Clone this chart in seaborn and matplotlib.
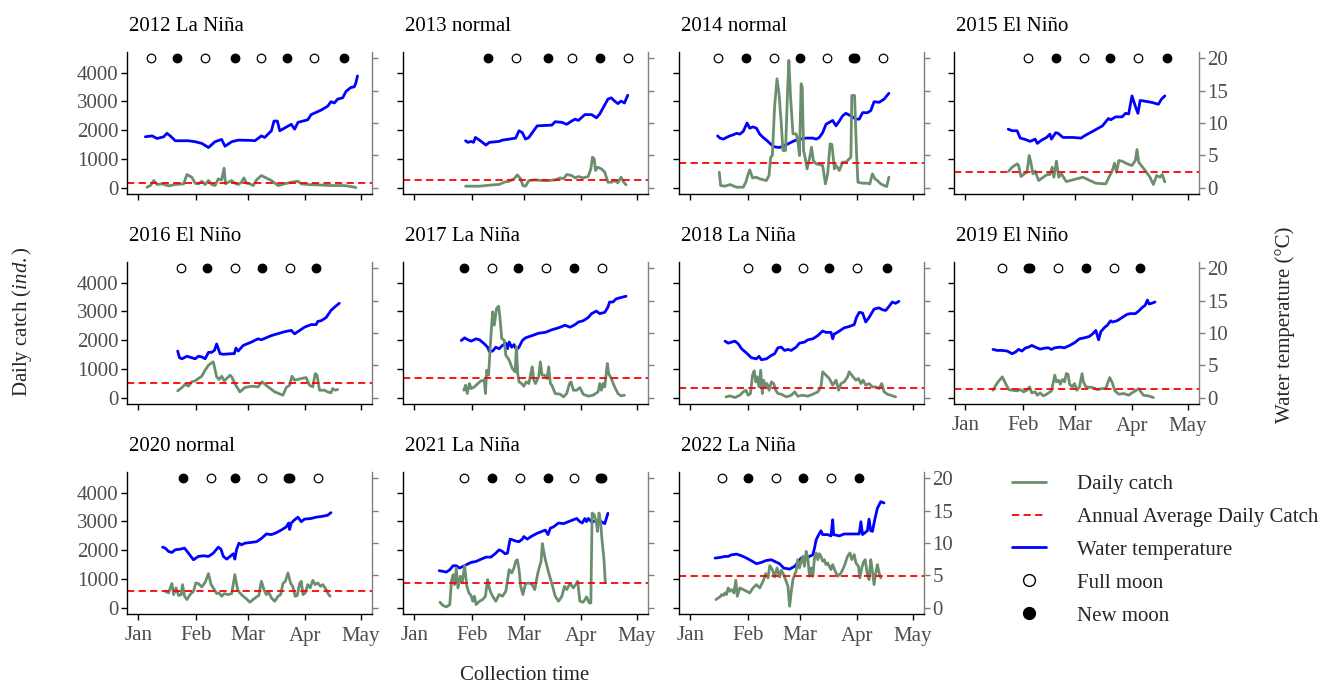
import numpy as np
import pandas as pd
import matplotlib
matplotlib.use("Agg")
import matplotlib.pyplot as plt
import seaborn as sns
from matplotlib.lines import Line2D

sns.set_style("ticks")
plt.rcParams['font.family'] = ['Liberation Serif', 'DejaVu Serif']
plt.rcParams['mathtext.fontset'] = 'custom'
plt.rcParams['mathtext.rm'] = 'Liberation Serif'
plt.rcParams['mathtext.it'] = 'Liberation Serif:italic'

# ---------------- data ----------------
years = [2012, 2013, 2014, 2015, 2016, 2017, 2018, 2019, 2020, 2021, 2022]
enso = ['La Niña', 'normal', 'normal', 'El Niño', 'El Niño', 'La Niña',
        'La Niña', 'El Niño', 'normal', 'La Niña', 'La Niña']
avg_catch = [163, 267, 872, 558, 512, 686, 326, 291, 592, 847, 1114]
month_ticks = [0, 31, 59, 90, 120]          # day offset from Jan 1
month_labels = ['Jan', 'Feb', 'Mar', 'Apr', 'May']

full_2012 = [7, 36, 66, 95];        new_2012 = [21, 52, 80, 111]
full_2013 = [55, 85, 115];          new_2013 = [40, 72, 100]
full_2014 = [15, 45, 74, 104];      new_2014 = [30, 59, 88, 89]
full_2015 = [34, 64, 93];           new_2015 = [49, 78, 109]
full_2016 = [23, 52, 82];           new_2016 = [37, 67, 96]
full_2017 = [42, 71, 101];          new_2017 = [27, 56, 86]
full_2018 = [31, 61, 90];           new_2018 = [46, 75, 106]
full_2019 = [20, 50, 80];           new_2019 = [34, 35, 65, 94]
full_2020 = [39, 67, 97];           new_2020 = [24, 52, 81, 82]
full_2021 = [27, 57, 86];           new_2021 = [42, 72, 100, 101]
full_2022 = [17, 46, 76];           new_2022 = [31, 61, 91]

cday_2012 = [4.8,6.6,8.4,10.2,12.9,16.4,20,24.5,26.3,28.9,30.7,32.5,34.3,36.1,37.9,39.6,41.4,43.2,45,46.3,47.1,48.6,50.4,52.1,53.9,55.7,57,58.4,60.2,62,63.8,66.4,68.2,71.8,75.4,78.9,82.5,86.1,87.9,91.4,96.8,103.9,111.1,114.6,117.3]
catch_2012 = [12,70,244,105,128,58,105,128,454,360,151,128,221,105,244,105,70,302,267,675,128,186,244,151,105,186,337,151,128,70,267,419,360,244,70,128,186,221,128,105,93,70,70,35,0]
tday_2012 = [3.9,7.5,10.2,13.8,15.5,17.3,20,27.1,30.7,34.3,37.9,41.4,45,46.8,50.4,53.9,61,62.9,66.4,68.2,71.8,73.2,75,76.3,82.5,84.3,86.1,91.4,93.2,98.6,102.1,103.9,105.7,107.5,110.2,112,114.6,116.4,117.3,118.2]
temp_2012 = [7.87,8.0,7.6,7.87,8.4,8.0,7.25,7.25,7.1,6.84,6.2,7.1,7.45,6.4,7.1,7.35,7.3,7.25,8.0,7.76,8.8,10.3,10.3,8.8,9.8,9.05,10.1,10.5,11.3,12.0,12.6,13.3,13.1,13.7,13.9,14.9,15.5,15.6,16.2,17.3]

cday_2013 = [27.7,35.2,42.3,45.8,48.5,51.2,53.8,55.6,57.4,58.6,60,61.8,65.4,68.9,72.5,76,78.7,80.5,82.2,84.9,86.7,88.5,91.1,93.8,95.2,96.1,97,97.7,98.8,100.9,102.7,104.4,106.2,108,109.8,111.5,112.9,114.2]
catch_2013 = [47,47,93,105,186,221,302,442,302,70,47,244,267,244,244,267,337,302,454,419,337,384,337,384,651,1058,1000,593,709,651,535,186,186,244,163,360,186,93]
tday_2013 = [27.7,29,30.7,32,33,35.2,38.7,40.5,45.8,47.6,51.2,54.7,56.5,58.3,60,61.8,66.3,74.2,76,79.6,82.2,84.9,86.7,88.5,92,95.6,98.2,100,104.4,106.2,108,109.8,111.5,113.3,115.1]
temp_2013 = [7.25,7.0,7.15,7.0,7.76,7.35,6.58,7.0,7.15,7.35,7.5,7.66,8.8,8.5,7.5,7.76,9.56,9.67,10.2,10.1,9.8,10.3,10.6,10.4,11.3,11.3,10.8,11.4,13.7,13.9,13.4,13.0,13.4,13.1,14.3]

cday_2014 = [15.7,16.4,18.8,21.4,25,28.6,30,31.3,32.1,33.6,35.7,37.5,41.1,42.5,43.4,44.3,45.5,46.8,47.9,49.1,50,51.4,52.5,53.2,54.1,55.4,57.1,58,58.9,59.8,60.4,61.1,62.1,63,64.3,65.4,66.4,67.9,69.6,71.4,72.9,74.1,75.4,76.4,77.7,78.6,80.4,82.1,83.9,85.7,86.6,87.1,88.6,89.6,90.4,92.9,95.5,96.8,98.2,99.6,100.9,102.7,104.5,105.9,107.1]
catch_2014 = [535,70,47,105,12,12,186,477,616,337,360,302,244,419,1058,1116,2803,3791,3268,2221,1291,1291,3384,4431,3152,1872,1872,1640,1116,3617,3500,1291,1000,651,1000,1407,942,826,802,768,128,477,1524,1500,651,768,593,884,884,1000,1058,3210,3210,1291,186,151,151,128,477,302,244,128,70,35,360]
tday_2014 = [14.8,16.1,17.9,19.6,21.4,23.2,25,26.8,28.6,30.7,32.1,33.9,35.7,37.5,39.3,41.1,43.8,45.5,48.2,51.8,55.4,57.1,58.9,62.5,66.1,67.9,69.6,71.4,73.2,75,76.8,78.6,80.4,82.1,83.9,86.6,89.3,91.1,92.9,95.5,97.3,99.1,101.8,104.5,107.1]
temp_2014 = [8.0,7.66,7.5,7.76,8.0,8.17,8.4,8.28,8.7,10.0,9.2,9.4,9.2,8.28,7.76,7.35,6.63,6.3,6.2,6.63,7.15,7.35,7.5,7.66,7.66,7.5,7.76,8.5,9.8,10.1,10.4,9.56,10.3,11.1,11.5,11.1,10.6,10.6,11.6,11.6,11.9,13.3,13.2,13.7,14.6]

cday_2015 = [23.5,25.3,28,28.8,30.1,31.9,33.3,34.5,35.4,36.5,37.7,39.6,42.1,44.2,45.7,46.9,47.8,49.2,50.4,51.9,54.5,63.4,70.4,75.8,77.5,79.3,80.5,81.6,82.8,84.6,87.3,89.9,91.7,92.6,93.5,97,99.6,101.4,103.2,105,106.2,107.6]
catch_2015 = [570,709,826,768,384,477,535,1116,884,477,570,244,360,454,454,709,360,919,360,477,209,360,151,128,360,593,849,535,942,919,826,768,942,1326,884,593,360,105,419,360,454,198]
tday_2015 = [23.2,25.3,28,29.7,32.4,35,37.7,38.9,41.2,43.9,45.7,46.5,48.8,50.1,52.7,58,62.5,64.2,68.7,74,77.2,78.4,81.1,84.6,86.4,88.1,89.9,91.7,93.1,94.3,100.5,104.1,105.8,107.6]
temp_2015 = [9.05,8.8,8.8,7.66,7.45,7.15,7.5,6.84,7.35,7.76,8.28,7.5,8.5,8.4,7.76,7.76,7.66,8.0,8.7,9.56,10.7,10.5,10.95,10.95,11.5,11.4,14.2,12.6,11.5,13.5,13.2,12.9,13.7,14.2]

cday_2016 = [21.3,23.6,25.4,27.1,28.9,30.7,32.5,34.3,36.1,37.9,39.6,40.5,42.3,43.6,45,46.4,47.7,49.5,50.4,52.1,54.8,57.5,61.1,64.6,66.8,70,73.6,78,79.8,81.6,82.9,84.3,87.9,90.5,92.3,94.1,95.4,96.4,97.7,100.4,102.1,103.9,104.8,106.1,107.5]
catch_2016 = [233,349,465,395,547,582,663,744,954,1128,1210,1244,721,628,744,582,663,779,721,488,198,349,395,372,547,372,198,81,349,430,744,605,663,698,430,372,837,779,256,256,198,163,314,256,279]
tday_2016 = [21.3,22.3,23.6,26.3,28.9,30.7,32.5,34.3,36.1,37.9,39.6,41.1,42.3,43.2,44.1,45.9,50.4,51.8,52.7,53.9,56.6,61.1,64.6,66.4,71.8,78.9,82.5,84.3,89.6,93.2,95.9,96.8,98.6,101.3,103.9,106.6,108.4]
temp_2016 = [7.2,6.17,6.0,6.4,6.17,6.0,6.4,6.3,6.0,7.0,7.0,7.3,8.3,7.56,6.8,6.7,6.8,6.8,7.66,7.2,8.07,8.6,9.1,8.95,9.6,10.2,10.4,9.87,10.9,11.3,11.3,11.8,11.9,12.4,13.5,14.2,14.6]

cday_2017 = [26.8,27.7,28.6,29.8,30.7,32.5,34.3,36.1,37.8,38.4,39.1,40.1,41.4,42.3,43.2,44.4,45.5,46.2,47.2,48.5,49.4,51.2,52.9,54.4,55.1,55.8,56.5,57.9,59.1,60.4,61.8,62.7,63.6,64.5,65.4,67.1,68,68.9,70.3,71.6,72.5,73.4,74.2,76,78.7,80.5,82.2,83.7,84.5,85.8,87.6,89.3,91.1,93.8,96.4,99.1,100,100.9,101.8,102.7,104.1,104.8,106.2,108,109.8,111.5,113.3]
catch_2017 = [256,430,140,488,314,372,488,582,605,140,954,779,2175,2989,2524,3105,3187,2814,2059,2000,1477,1303,1012,895,1768,837,547,488,395,547,488,779,1070,605,488,721,1244,779,779,663,1070,488,430,140,116,23,140,488,547,256,256,349,116,47,81,198,488,256,488,372,1186,837,663,372,140,58,81]
tday_2017 = [25.4,27.2,29,30.7,33.4,35.2,37.8,39.6,40.5,42.3,44,45.8,47.6,49.4,50.3,51.2,52.6,53.8,55.1,56.5,57.4,58.3,60,63.6,67.1,70.7,74.2,77.8,81.3,84,86.7,88.5,91.1,93.8,95.6,98.2,100,102.7,104.4,105.3,107.1,108.9,111.5,114.2]
temp_2017 = [8.84,9.25,8.95,8.74,9.1,8.95,8.33,7.8,7.15,7.2,7.8,7.56,8.07,8.43,7.56,8.6,7.8,8.2,7.4,7.8,8.33,8.84,9.25,9.6,9.97,10.1,10.5,10.8,11.2,10.9,11.3,11.7,11.9,12.4,13.0,13.4,13.0,13.2,14.0,14.8,14.8,15.3,15.5,15.7]

cday_2018 = [19.3,21.4,24.1,26.8,28.6,30,31.3,32.5,33.6,34.5,35.4,36.1,37.1,38,38.9,39.6,40.7,41.4,42.5,43.8,45,46.1,47.3,49.1,51.8,54.5,56.3,58,60.7,63.4,66.1,68.8,70.5,71.4,72.3,73.2,75,75.9,76.8,78.6,80,81.3,83,84.8,85.7,87.5,89.3,90.7,92,93.2,94.6,96.4,98.2,100,101.8,103.2,104.5,106.3,108,110.7]
catch_2018 = [23,58,0,81,198,256,81,140,779,930,547,721,372,954,140,605,372,488,256,547,488,256,140,116,23,81,198,47,81,47,116,198,372,895,837,779,663,547,430,605,256,488,547,721,895,744,605,663,488,605,430,488,372,372,314,488,198,116,81,23]
tday_2018 = [18.8,20.5,24.1,25.9,27.7,30.4,33,35.7,37.1,38.4,41.1,43.8,45.5,47.3,49.1,50.9,52.7,54.5,57.1,58.9,61.6,63.4,66.1,68.8,71.4,73.2,75.9,76.8,77.7,78.6,80.4,83,85.7,88.4,89.6,91.1,92.9,94.6,96.4,99.1,101.8,103.6,105.4,107.1,108.9,110.7,112.5]
temp_2018 = [8.74,8.43,8.74,8.33,7.56,6.89,6.17,6.0,6.38,5.86,6.0,6.53,6.79,7.71,7.81,7.3,7.45,7.3,7.81,8.43,8.59,8.95,9.1,9.6,10.3,10.1,10.1,9.1,9.87,9.97,10.3,10.8,11.0,11.3,12.4,13.2,13.1,11.7,12.4,13.7,13.9,13.6,13.5,14.1,14.8,14.6,14.9]

cday_2019 = [15,16.5,18.2,20,21.8,23.5,25.3,28,29.7,31.5,33.3,34.7,35.9,37.7,38.9,40.4,42.1,43.9,46.5,48.3,49.2,50.4,51.3,52.4,53.6,54.5,55.4,56.3,57.7,58.9,60.2,61.6,63,63.7,65.1,68.7,71.3,74,75.8,77,77.9,79.3,80.7,82.8,85.5,88.1,89.9,91.7,93.5,94.7,96.1,98.8,101.4]
catch_2019 = [256,430,582,721,488,279,256,233,279,198,256,372,163,198,81,163,58,116,233,779,547,605,465,628,547,837,814,465,372,488,256,372,837,547,372,349,279,314,314,547,698,512,233,116,140,81,163,233,314,198,81,58,0]
tday_2019 = [15,17.3,20,22.7,25.3,27.1,28.8,30.6,32.4,34.2,35.9,38.6,40.4,43,44.8,46.5,48.3,51,53.6,56.3,58.9,61.6,64.2,66.9,68.7,70.4,71.9,73.1,74.9,76.6,78.4,79.3,81.9,84.6,87.3,89,91.7,93.5,95.2,97,98.2,99.1,100.5,102.3]
temp_2019 = [7.46,7.3,7.3,7.2,6.79,7.04,7.46,7.2,7.66,7.81,8.07,7.71,7.5,7.66,7.71,7.46,7.71,7.81,7.71,8.07,8.48,9.1,9.25,9.46,9.87,10.4,8.95,10.2,10.8,11.2,11.9,11.7,11.9,12.4,12.9,13.0,13.0,13.4,13.9,14.3,15.1,14.5,14.6,14.8]

cday_2020 = [14.6,16.4,17.3,18.2,19.1,20.4,21.8,23.2,23.9,25,26.3,28,29.8,31.1,32.5,34.3,36.1,37.9,39.3,40.5,42.3,43.6,45,46.4,48.6,50.4,52.1,53.6,54.8,56.6,58.4,60.2,61.9,63.8,65,66.4,67.9,69.1,70.4,71.8,73.6,75.4,76.8,78,79.3,80.7,82.1,83.4,84.6,85.7,87,87.9,88.8,90,91.4,92.7,94.1,95.4,96.8,98.2,99.5,101.3,102.1,103.4]
catch_2020 = [568,510,684,835,452,684,418,452,800,394,278,452,568,858,835,719,882,1183,800,684,487,510,394,487,452,487,1148,626,510,394,302,186,278,371,418,916,603,452,534,336,220,394,452,835,916,1206,858,719,394,418,835,916,452,510,800,684,951,800,858,742,800,626,510,394]
tday_2020 = [13.2,14.6,16.4,18.2,20,22.7,25,27.1,29.8,32.5,35.2,37.9,40.5,43.2,44.6,45.9,47.7,49.5,51.3,52.1,53,54.3,55.7,57.5,61.1,63.8,66.4,69.1,71.8,74.5,77.1,79.8,81.1,81.6,82.5,84.3,86.1,87.9,89.6,93.2,95.9,98.6,102.1,103.9]
temp_2020 = [9.36,9.2,8.69,8.53,8.95,9.05,9.2,8.43,7.4,7.92,8.02,7.92,8.43,9.36,9.05,7.92,7.5,7.92,8.33,7.5,8.95,9.97,9.72,9.97,10.1,10.2,10.7,11.4,11.3,11.6,12.0,12.5,13.1,12.1,13.1,13.6,14.0,13.3,13.7,13.8,14.0,14.1,14.3,14.7]

cday_2021 = [13.9,15.6,17.4,19.2,20.1,21,21.8,22.7,23.6,24.9,25.9,27.2,28.4,29.5,30.7,31.6,32.5,33.4,35.2,36.9,38.4,39.6,40.5,41.4,42.3,44,45.8,47.6,49.4,51.2,52.6,53.8,54.7,55.6,56.5,57.4,58.6,60,61.8,63.6,65,66.3,67.1,68.4,69.1,69.8,70.7,72.5,74.2,76,77.8,79.6,81,82.2,84,85.8,88.1,89.3,91.1,92.9,94.3,95.2,95.9,97,98.2,98.8,99.6,100.5,101.2,102.3,103]
catch_2021 = [186,70,23,104,916,1148,800,1380,684,1090,858,1462,742,510,418,220,394,104,220,278,394,974,684,510,394,220,452,394,568,1322,1206,1380,1612,1670,1322,742,452,835,858,800,626,1090,1322,1612,2227,1960,1670,1206,835,394,220,394,742,626,835,684,916,220,186,371,162,162,3294,3236,2946,2656,3294,2946,2366,1670,858]
tday_2021 = [13.5,15.6,17.4,19.2,21,22.7,24.5,26.3,28.1,30.7,33.4,36.1,38.7,41.4,44,45.8,47.6,49,50.3,51.7,52.9,54.7,56.5,58.3,59.1,60.9,63.6,66.3,68.9,70.7,72.1,73.4,75.1,77.8,80.5,83.1,85.8,87.6,89.3,90.6,92,92.9,93.8,95.6,98.2,100.9,102.7,104.4]
temp_2021 = [5.71,5.6,5.5,5.86,6.48,6.48,6.12,6.38,6.63,6.99,7.15,7.5,7.81,7.81,8.43,8.95,8.69,8.33,8.43,10.6,10.5,10.3,10.2,10.6,11.0,10.6,11.1,11.5,11.8,12.0,11.3,12.3,12.5,13.1,13.0,13.3,13.6,13.8,13.3,13.1,13.8,13.3,13.8,13.3,13.4,13.3,13.0,14.6]

cday_2022 = [13.9,15.2,16.1,17,17.9,18.8,19.6,20.5,21.4,22.3,23.6,24.6,25.4,26.8,28.6,30.4,32.1,33.9,35.7,37.5,39.3,40.7,42,42.9,44.3,45.5,46.8,48.2,49.1,50.4,51.4,52.7,53.6,54.5,55.4,56.3,57.1,58,58.9,59.8,60.7,61.6,62.5,63.4,64.3,65.2,66.1,67,67.9,68.8,69.6,70.5,71.4,72.3,73.2,74.1,75,75.9,76.8,78.2,79.5,81.3,83,84.8,86.1,87.1,88.4,89.3,90.7,91.4,92.5,93.2,94.3,95.5,96.4,97.3,98.2,99.1,100,100.9,101.8,102.7]
catch_2022 = [278,336,371,452,418,510,452,684,568,626,510,951,394,684,626,568,510,684,800,684,916,1183,1032,1462,1322,1067,1380,1067,1299,1148,974,742,46,568,974,1148,1264,1670,1380,1612,1786,1438,1960,1728,1090,1380,1090,1728,1902,1670,1879,1786,1612,1670,1496,1554,1438,1322,1496,1264,1090,1206,1438,1786,1902,1670,1844,1554,1438,1032,1380,1554,1670,1148,974,1670,1264,800,1206,1496,1206,1032]
tday_2022 = [13.4,16.1,18.8,20.5,22.3,25,27.7,30.4,33,35.7,38.4,41.1,43.8,45.5,48.2,50.4,53.6,56.3,58,59.8,62.5,64.3,66.1,67,67.9,69.3,70.5,71.4,74.1,75.9,76.8,77.3,80.4,83,87.5,91.1,92,92.9,95.5,96.4,97.3,98.2,99.6,100.9,102.7,104.5]
temp_2022 = [7.66,7.76,7.92,7.92,8.17,8.28,8.02,7.66,7.25,6.79,6.99,7.3,7.4,7.15,6.79,6.12,5.96,6.38,6.99,7.66,7.66,7.92,8.17,9.2,10.5,11.3,11.9,11.3,11.3,11.1,13.6,11.3,11.1,11.4,11.4,11.4,13.3,11.3,11.9,13.7,11.9,11.8,13.8,15.4,16.4,16.2]

# ---------------- assemble ----------------
catch_days = [cday_2012, cday_2013, cday_2014, cday_2015, cday_2016, cday_2017,
              cday_2018, cday_2019, cday_2020, cday_2021, cday_2022]
catches = [catch_2012, catch_2013, catch_2014, catch_2015, catch_2016, catch_2017,
           catch_2018, catch_2019, catch_2020, catch_2021, catch_2022]
temp_days = [tday_2012, tday_2013, tday_2014, tday_2015, tday_2016, tday_2017,
             tday_2018, tday_2019, tday_2020, tday_2021, tday_2022]
temps = [temp_2012, temp_2013, temp_2014, temp_2015, temp_2016, temp_2017,
         temp_2018, temp_2019, temp_2020, temp_2021, temp_2022]
fulls = [full_2012, full_2013, full_2014, full_2015, full_2016, full_2017,
         full_2018, full_2019, full_2020, full_2021, full_2022]
news = [new_2012, new_2013, new_2014, new_2015, new_2016, new_2017,
        new_2018, new_2019, new_2020, new_2021, new_2022]

SCALE = 4500 / 20.0       # secondary axis: temperature * SCALE = catch units
MOON_Y = 4500

GREEN = '#6b8e6e'
BLUE = '#0000ff'
RED = '#ff0000'
TICKC = '#4d4d4d'
FS = 15

W, H = 1326, 686
fig = plt.figure(figsize=(W / 100, H / 100), dpi=100)
col_left = [127, 403, 679, 954]
row_top = [52, 262, 472]
PW, PH = 245, 142

for i, yr in enumerate(years):
    r, c = divmod(i, 4)
    ax = fig.add_axes([col_left[c] / W, 1 - (row_top[r] + PH) / H, PW / W, PH / H])
    ax.set_facecolor('white')

    tdf = pd.DataFrame({'day': temp_days[i], 'temp': np.array(temps[i]) * SCALE})
    cdf = pd.DataFrame({'day': catch_days[i], 'catch': catches[i]})
    sns.lineplot(data=tdf, x='day', y='temp', ax=ax, color=BLUE, linewidth=2.0,
                 estimator=None, sort=False, legend=False)
    sns.lineplot(data=cdf, x='day', y='catch', ax=ax, color=GREEN, linewidth=2.0,
                 estimator=None, sort=False, legend=False)
    ax.axhline(avg_catch[i], color=RED, linewidth=1.3, linestyle=(0, (4, 2.4)))
    sns.scatterplot(x=fulls[i], y=[MOON_Y] * len(fulls[i]), ax=ax, s=38,
                    facecolor='white', edgecolor='black', linewidth=0.9, zorder=5)
    sns.scatterplot(x=news[i], y=[MOON_Y] * len(news[i]), ax=ax, s=38,
                    color='black', edgecolor='black', linewidth=0.9, zorder=5)

    ax.set_xlim(-6, 126)
    ax.set_ylim(-225, 4725)
    ax.set_xticks(month_ticks)
    ax.set_xticklabels(month_labels)
    ax.set_yticks([0, 1000, 2000, 3000, 4000])
    ax.set_xlabel('')
    ax.set_ylabel('')
    for s in ['top', 'right']:
        ax.spines[s].set_visible(False)
    for s in ['left', 'bottom']:
        ax.spines[s].set_color('black')
        ax.spines[s].set_linewidth(1.0)
    show_x = (r == 2) or (yr == 2019)
    show_l = (c == 0)
    ax.tick_params(axis='both', direction='out', length=4, width=1, color='black',
                   labelcolor=TICKC, labelsize=FS, pad=2,
                   labelleft=show_l, labelbottom=show_x)
    ax.tick_params(axis='x', pad=5)

    sec = ax.secondary_yaxis('right', functions=(lambda v: v / SCALE, lambda t: t * SCALE))
    sec.set_yticks([0, 5, 10, 15, 20])
    sec.spines['right'].set_color('#7f7f7f')
    sec.spines['right'].set_linewidth(1.0)
    show_r = (yr in (2015, 2019, 2022))
    sec.tick_params(axis='y', direction='out', length=4, width=1, color='#7f7f7f',
                    labelcolor=TICKC, labelsize=FS, pad=2, labelright=show_r)

    ax.annotate(f'{yr} {enso[i]}', xy=(0, 1), xycoords='axes fraction',
                xytext=(2, 21), textcoords='offset pixels', ha='left', va='baseline',
                fontsize=FS, color='black')

fig.text(22 / W, 1 - 322 / H, 'Daily catch ($\\mathit{ind.}$)', rotation=90,
         ha='center', va='center', fontsize=FS)
fig.text(1285 / W, 1 - 325 / H, 'Water temperature (°C)', rotation=90,
         ha='center', va='center', fontsize=FS)
fig.text(525 / W, 1 - 675 / H, 'Collection time', ha='center', va='center', fontsize=FS)

handles = [
    Line2D([], [], color=GREEN, linewidth=2.0),
    Line2D([], [], color=RED, linewidth=1.3, linestyle=(0, (4, 2.4))),
    Line2D([], [], color=BLUE, linewidth=2.0),
    Line2D([], [], marker='o', linestyle='', markersize=8.5, markerfacecolor='white',
           markeredgecolor='black', markeredgewidth=1.0),
    Line2D([], [], marker='o', linestyle='', markersize=8.5, markerfacecolor='black',
           markeredgecolor='black'),
]
labels = ['Daily catch', 'Annual Average Daily Catch', 'Water temperature',
          'Full moon', 'New moon']
fig.legend(handles, labels, loc='upper left', bbox_to_anchor=(1004 / W, 1 - 466 / H),
           frameon=False, fontsize=FS, handlelength=1.6, handletextpad=1.5,
           labelspacing=0.64, borderaxespad=0)

fig.savefig('out.png', dpi=100)
